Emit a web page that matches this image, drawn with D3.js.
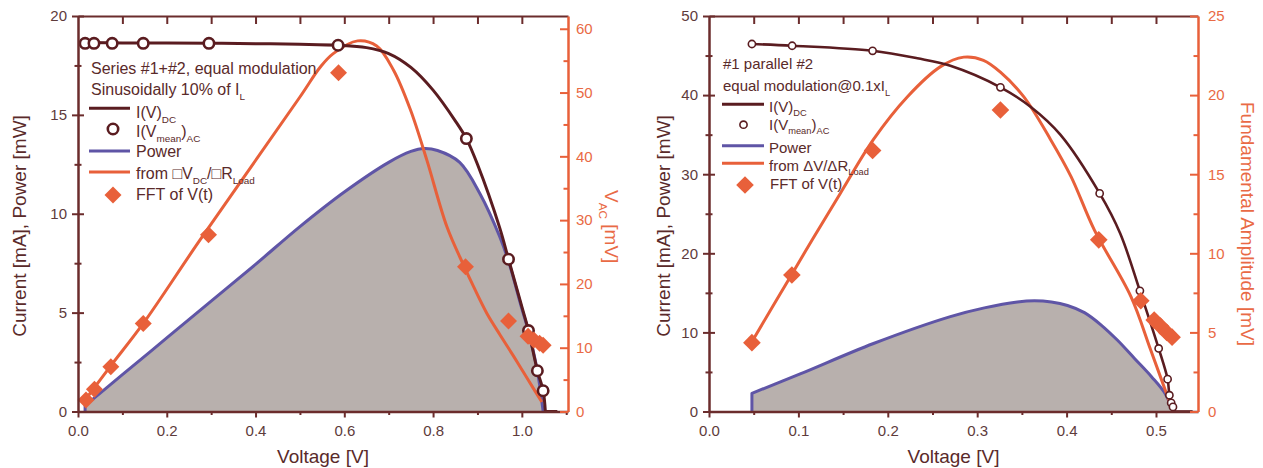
<!DOCTYPE html>
<html><head><meta charset="utf-8">
<script src="https://cdn.jsdelivr.net/npm/d3@7"></script>
<style>body{margin:0;background:#fff}svg{display:block}</style>
</head><body>
<svg id="c" width="1263" height="468"></svg>
<script>
// ---------- LEFT PANEL DATA (Series #1+#2) ----------
const L_V_dc = [0.012, 0.1, 0.2, 0.3, 0.4, 0.5, 0.586, 0.65, 0.7, 0.75, 0.8, 0.85, 0.875, 0.9, 0.95, 0.97, 1.0, 1.015, 1.035, 1.048, 1.053, 1.08];
const L_I_dc = [18.66, 18.64, 18.63, 18.62, 18.6, 18.57, 18.52, 18.4, 18.1, 17.4, 16.25, 14.7, 13.8, 12.5, 9.3, 7.7, 5.3, 4.09, 2.06, 1.05, 0, 0];
const L_V_ac = [0.016, 0.036, 0.077, 0.147, 0.295, 0.586, 0.875, 0.970, 1.015, 1.035, 1.048];
const L_I_ac = [18.62, 18.62, 18.62, 18.62, 18.62, 18.52, 13.8, 7.7, 4.09, 2.06, 1.05];
const L_V_p = [0.016, 0.1, 0.2, 0.3, 0.4, 0.5, 0.6, 0.7, 0.75, 0.78, 0.81, 0.86, 0.906, 0.95, 0.97, 1.0, 1.015, 1.035, 1.048];
const L_P = [0.3, 1.86, 3.72, 5.58, 7.44, 9.35, 11.1, 12.6, 13.15, 13.3, 13.2, 12.6, 11.0, 8.85, 7.6, 5.2, 4.05, 2.05, 0];
const L_V_fit = [0.016, 0.072, 0.147, 0.275, 0.5, 0.546, 0.575, 0.63, 0.673, 0.711, 0.749, 0.786, 0.831, 0.869, 0.891, 0.921, 0.951, 0.982, 1.012, 1.045];
const L_VAC_fit = [1.8, 7.0, 13.8, 26.9, 49.3, 54.0, 56.1, 58.1, 57.3, 53.5, 47.3, 39.4, 29.0, 22.9, 19.6, 15.4, 12.0, 8.6, 5.2, 1.5];
const L_V_fft = [0.018, 0.037, 0.074, 0.147, 0.294, 0.587, 0.873, 0.970, 1.014, 1.027, 1.040, 1.048];
const L_VAC_fft = [1.8, 3.5, 7.0, 13.8, 27.7, 53.1, 22.7, 14.2, 11.8, 11.2, 10.7, 10.4];
const L_xMajor = [0, 0.2, 0.4, 0.6, 0.8, 1.0];
const L_xMinor = [0.1, 0.3, 0.5, 0.7, 0.9, 1.1];
const L_yMajor = [0, 5, 10, 15, 20];
const L_yMinor = [2.5, 7.5, 12.5, 17.5];
const L_y2Major = [0, 10, 20, 30, 40, 50, 60];
const L_y2Minor = [5, 15, 25, 35, 45, 55];

// ---------- RIGHT PANEL DATA (#1 parallel #2) ----------
const R_V_dc = [0.048, 0.093, 0.183, 0.233, 0.27, 0.326, 0.36, 0.393, 0.437, 0.46, 0.482, 0.503, 0.513, 0.515, 0.517, 0.519, 0.521, 0.541];
const R_I_dc = [46.46, 46.24, 45.6, 44.65, 43.7, 40.98, 38.5, 35.0, 27.57, 22.5, 15.25, 7.97, 4.09, 2.06, 1.09, 0.58, 0, 0];
const R_V_ac = [0.048, 0.093, 0.183, 0.326, 0.437, 0.482, 0.503, 0.513, 0.515, 0.517, 0.519];
const R_I_ac = [46.46, 46.24, 45.6, 40.98, 27.57, 15.25, 7.97, 4.09, 2.06, 1.09, 0.58];
const R_V_p = [0.048, 0.102, 0.184, 0.27, 0.308, 0.345, 0.364, 0.383, 0.401, 0.42, 0.439, 0.457, 0.476, 0.495, 0.51, 0.519];
const R_P = [2.3, 4.75, 8.6, 12.0, 13.1, 13.85, 14.0, 13.85, 13.4, 12.5, 10.9, 9.0, 6.7, 4.4, 2.3, 0];
const R_V_fit = [0.047, 0.0927, 0.117, 0.147, 0.184, 0.222, 0.259, 0.285, 0.307, 0.326, 0.352, 0.382, 0.405, 0.431, 0.472, 0.494, 0.517];
const R_A_fit = [4.32, 8.68, 11.0, 13.8, 17.2, 19.9, 21.8, 22.4, 22.2, 21.45, 19.9, 17.2, 14.85, 11.48, 7.26, 3.9, 0.32];
const R_V_fft = [0.048, 0.0927, 0.183, 0.326, 0.436, 0.483, 0.498, 0.505, 0.512, 0.518];
const R_A_fft = [4.35, 8.63, 16.5, 19.06, 10.85, 7.0, 5.78, 5.4, 5.0, 4.7];
const R_xMajor = [0, 0.1, 0.2, 0.3, 0.4, 0.5];
const R_xMinor = [0.05, 0.15, 0.25, 0.35, 0.45];
const R_xTop = [0.05, 0.1, 0.15, 0.2, 0.25, 0.3, 0.35, 0.4, 0.45, 0.5];
const R_yMajor = [0, 10, 20, 30, 40, 50];
const R_yMinor = [5, 15, 25, 35, 45];
const R_y2Major = [0, 5, 10, 15, 20, 25];
const R_y2Minor = [2.5, 7.5, 12.5, 17.5, 22.5];

// ---------- STYLE ----------
const F = "'Liberation Sans', Arial, Helvetica, sans-serif";
const AXIS = "#6b2c2c", DCC = "#5a1c20", OR = "#e8603a", ORT = "#e96a45", PU = "#5f55a6", FILL = "#b8b0ad", TICK = "#5e3b3b", TXT = "#5a2a2a";

const svg = d3.select("#c");
const zip = (a, b) => a.map((v, i) => [v, b[i]]);

function rich(g, x, y, parts, size, fill, transform, anchor) {
  const t = g.append("text").attr("x", x).attr("y", y).attr("font-size", size)
    .attr("fill", fill).attr("font-family", F).attr("text-anchor", anchor || "start");
  if (transform) t.attr("transform", transform);
  let shift = 0;
  parts.forEach(p => {
    const sub = p[1] === 1;
    const target = sub ? size * 0.32 : 0;
    t.append("tspan").attr("dy", target - shift).attr("font-size", sub ? size * 0.62 : size).text(p[0]);
    shift = target;
  });
  return t;
}

function panel(o) {
  const g = svg.append("g");
  const x = d3.scaleLinear().domain(o.xDom).range(o.xRange);
  const y = d3.scaleLinear().domain(o.yDom).range([411.5, 16]);
  const y2 = d3.scaleLinear().domain(o.y2Dom).range([411.5, 16]);
  const smooth = d3.curveCatmullRom.alpha(0.5);

  // power fill + line (vertical start edge down to zero)
  const pts = zip(o.Vp, o.P);
  g.append("path").datum(pts)
    .attr("d", d3.area().x(d => x(d[0])).y0(y(0)).y1(d => y(d[1])).curve(smooth))
    .attr("fill", FILL);
  const pl = d3.line().x(d => x(d[0])).y(d => y(d[1])).curve(smooth)(pts);
  g.append("path")
    .attr("d", `M${x(pts[0][0])},${y(0)}L${x(pts[0][0])},${y(pts[0][1])}` + pl.replace(/^M[^C L]+/, ""))
    .attr("fill", "none").attr("stroke", PU).attr("stroke-width", 3).attr("stroke-linejoin", "round");

  // fit line (right axis)
  g.append("path").datum(zip(o.Vfit, o.Afit))
    .attr("d", d3.line().x(d => x(d[0])).y(d => y2(d[1])).curve(smooth))
    .attr("fill", "none").attr("stroke", OR).attr("stroke-width", 3).attr("stroke-linejoin", "round");

  // DC IV line: smooth down to first zero, then straight along zero
  const dc = zip(o.Vdc, o.Idc);
  const k = dc.findIndex(d => d[1] === 0);
  g.append("path").datum(dc.slice(0, k + 1))
    .attr("d", d3.line().x(d => x(d[0])).y(d => y(d[1])).curve(smooth))
    .attr("fill", "none").attr("stroke", DCC).attr("stroke-width", o.dcW);
  g.append("path").datum(dc.slice(k))
    .attr("d", d3.line().x(d => x(d[0])).y(d => y(d[1])))
    .attr("fill", "none").attr("stroke", DCC).attr("stroke-width", o.dcW);

  // AC circles
  g.selectAll(null).data(zip(o.Vac, o.Iac)).enter().append("circle")
    .attr("cx", d => x(d[0])).attr("cy", d => y(d[1])).attr("r", o.cr)
    .attr("fill", "#fff").attr("stroke", DCC).attr("stroke-width", o.cw);

  // FFT diamonds
  const dm = d3.symbol().type(d3.symbolSquare).size(o.ds * o.ds);
  g.selectAll(null).data(zip(o.Vfft, o.Afft)).enter().append("path")
    .attr("d", dm).attr("fill", OR)
    .attr("transform", d => `translate(${x(d[0])},${y2(d[1])}) rotate(45)`);

  // axes
  const styleAx = (sel, col, w) => {
    sel.select(".domain").attr("stroke", col).attr("stroke-width", w);
    sel.selectAll(".tick line").attr("stroke", col).attr("stroke-width", 2);
    sel.selectAll("text").attr("font-family", F).attr("font-size", 15).attr("fill", col === OR ? ORT : TICK);
  };
  const bx = g.append("g").attr("transform", `translate(0,${y(0)})`)
    .call(d3.axisBottom(x).tickValues(o.xMajor).tickFormat(d3.format(".1f")).tickSizeInner(6).tickSizeOuter(0).tickPadding(7.5));
  styleAx(bx, AXIS, 2.5);
  const bxm = g.append("g").attr("transform", `translate(0,${y(0)})`)
    .call(d3.axisBottom(x).tickValues(o.xMinor.filter(v => v <= o.xDom[1])).tickFormat("").tickSize(3.5));
  bxm.select(".domain").remove(); styleAx(bxm, AXIS, 2);
  const tx = g.append("g").attr("transform", `translate(0,16)`)
    .call(d3.axisTop(x).tickValues(o.xTop).tickFormat("").tickSizeInner(-8).tickSizeOuter(0));
  styleAx(tx, AXIS, 2);
  const ly = g.append("g").attr("transform", `translate(${o.xRange[0]},0)`)
    .call(d3.axisLeft(y).tickValues(o.yMajor).tickSizeInner(6).tickSizeOuter(0).tickPadding(5));
  styleAx(ly, AXIS, 2.5); ly.selectAll(".tick line").attr("x1", 6);
  const lym = g.append("g").attr("transform", `translate(${o.xRange[0]},0)`)
    .call(d3.axisLeft(y).tickValues(o.yMinor).tickFormat("").tickSize(3.5));
  lym.select(".domain").remove(); styleAx(lym, AXIS, 2); lym.selectAll(".tick line").attr("x1", 3.5);
  const ry = g.append("g").attr("transform", `translate(${o.xRange[1]},0)`)
    .call(d3.axisRight(y2).tickValues(o.y2Major).tickSizeInner(-8).tickSizeOuter(0).tickPadding(o.rPad));
  styleAx(ry, OR, 2.5);
  const rym = g.append("g").attr("transform", `translate(${o.xRange[1]},0)`)
    .call(d3.axisRight(y2).tickValues(o.y2Minor).tickFormat("").tickSize(-4.5));
  rym.select(".domain").remove(); styleAx(rym, OR, 2);

  const cx = (o.xRange[0] + o.xRange[1]) / 2;
  g.append("text").attr("x", cx).attr("y", 463).attr("text-anchor", "middle")
    .attr("font-family", F).attr("font-size", 19).attr("fill", TXT).text("Voltage [V]");
  g.append("text").attr("transform", `translate(${o.ltX},226) rotate(-90)`).attr("text-anchor", "middle")
    .attr("font-family", F).attr("font-size", 19).attr("fill", TXT).text("Current [mA], Power [mW]");
  return g;
}

// LEFT
const gL = panel({
  xDom: [0, 1.104], xRange: [78, 568], yDom: [0, 20], y2Dom: [0, 62],
  Vp: L_V_p, P: L_P, Vfit: L_V_fit, Afit: L_VAC_fit,
  Vdc: L_V_dc, Idc: L_I_dc, Vac: L_V_ac, Iac: L_I_ac, Vfft: L_V_fft, Afft: L_VAC_fft,
  dcW: 3, cr: 5.2, cw: 2.6, ds: 12,
  xMajor: L_xMajor, xMinor: L_xMinor, xTop: [...L_xMajor.slice(1), ...L_xMinor].filter(v => v < 1.1),
  yMajor: L_yMajor, yMinor: L_yMinor, y2Major: L_y2Major, y2Minor: L_y2Minor, rPad: 8, ltX: 26
});
rich(gL, 605, 190, [["V"], ["AC", 1], [" [mV]"]], 19, ORT, "rotate(90,605,190)");

gL.append("text").attr("x", 91).attr("y", 74).attr("font-family", F).attr("font-size", 16).attr("fill", TXT).text("Series #1+#2, equal modulation");
rich(gL, 91, 95, [["Sinusoidally 10% of I"], ["L", 1]], 16, TXT);
gL.append("line").attr("x1", 89).attr("x2", 130).attr("y1", 108.3).attr("y2", 108.3).attr("stroke", DCC).attr("stroke-width", 3);
rich(gL, 136, 118, [["I(V)"], ["DC", 1]], 16, TXT);
gL.append("circle").attr("cx", 113).attr("cy", 129).attr("r", 5.2).attr("fill", "#fff").attr("stroke", DCC).attr("stroke-width", 2.6);
rich(gL, 136, 136.5, [["I(V"], ["mean", 1], [")"], ["AC", 1]], 16, TXT);
gL.append("line").attr("x1", 89).attr("x2", 130).attr("y1", 151).attr("y2", 151).attr("stroke", PU).attr("stroke-width", 3);
rich(gL, 136, 156.5, [["Power"]], 16, TXT);
gL.append("line").attr("x1", 89).attr("x2", 130).attr("y1", 172).attr("y2", 172).attr("stroke", OR).attr("stroke-width", 3);
rich(gL, 136, 178.5, [["from \u25A1V"], ["DC", 1], ["/\u25A1R"], ["Load", 1]], 16, TXT);
gL.append("path").attr("d", d3.symbol().type(d3.symbolSquare).size(144)).attr("fill", OR).attr("transform", "translate(113,195) rotate(45)");
rich(gL, 136, 200, [["FFT of V(t)"]], 16, TXT);

// RIGHT
const gR = panel({
  xDom: [0, 0.547], xRange: [709, 1198], yDom: [0, 50], y2Dom: [0, 25],
  Vp: R_V_p, P: R_P, Vfit: R_V_fit, Afit: R_A_fit,
  Vdc: R_V_dc, Idc: R_I_dc, Vac: R_V_ac, Iac: R_I_ac, Vfft: R_V_fft, Afft: R_A_fft,
  dcW: 2.6, cr: 3.6, cw: 1.6, ds: 12.5,
  xMajor: R_xMajor, xMinor: R_xMinor, xTop: R_xTop,
  yMajor: R_yMajor, yMinor: R_yMinor, y2Major: R_y2Major, y2Minor: R_y2Minor, rPad: 10, ltX: 670
});
gR.append("text").attr("transform", "translate(1241,224) rotate(90)").attr("text-anchor", "middle")
  .attr("font-family", F).attr("font-size", 19).attr("fill", ORT).text("Fundamental Amplitude [mV]");

rich(gR, 723, 69, [["#1 parallel #2"]], 15, TXT);
rich(gR, 723, 91, [["equal modulation@0.1xI"], ["L", 1]], 15, TXT);
gR.append("line").attr("x1", 722).attr("x2", 764).attr("y1", 104.3).attr("y2", 104.3).attr("stroke", DCC).attr("stroke-width", 3);
rich(gR, 769, 111.5, [["I(V)"], ["DC", 1]], 15, TXT);
gR.append("circle").attr("cx", 743.5).attr("cy", 124.7).attr("r", 3.6).attr("fill", "#fff").attr("stroke", DCC).attr("stroke-width", 1.6);
rich(gR, 769, 129.5, [["I(V"], ["mean", 1], [")"], ["AC", 1]], 15, TXT);
gR.append("line").attr("x1", 722).attr("x2", 764).attr("y1", 145.7).attr("y2", 145.7).attr("stroke", PU).attr("stroke-width", 3);
rich(gR, 769, 152.5, [["Power"]], 15, TXT);
gR.append("line").attr("x1", 722).attr("x2", 764).attr("y1", 163.3).attr("y2", 163.3).attr("stroke", OR).attr("stroke-width", 3);
rich(gR, 769, 170.5, [["from \u0394V/\u0394R"], ["Load", 1]], 15, TXT);
gR.append("path").attr("d", d3.symbol().type(d3.symbolSquare).size(156)).attr("fill", OR).attr("transform", "translate(745,185) rotate(45)");
rich(gR, 770, 189, [["FFT of V(t)"]], 15, TXT);
</script>
</body></html>
